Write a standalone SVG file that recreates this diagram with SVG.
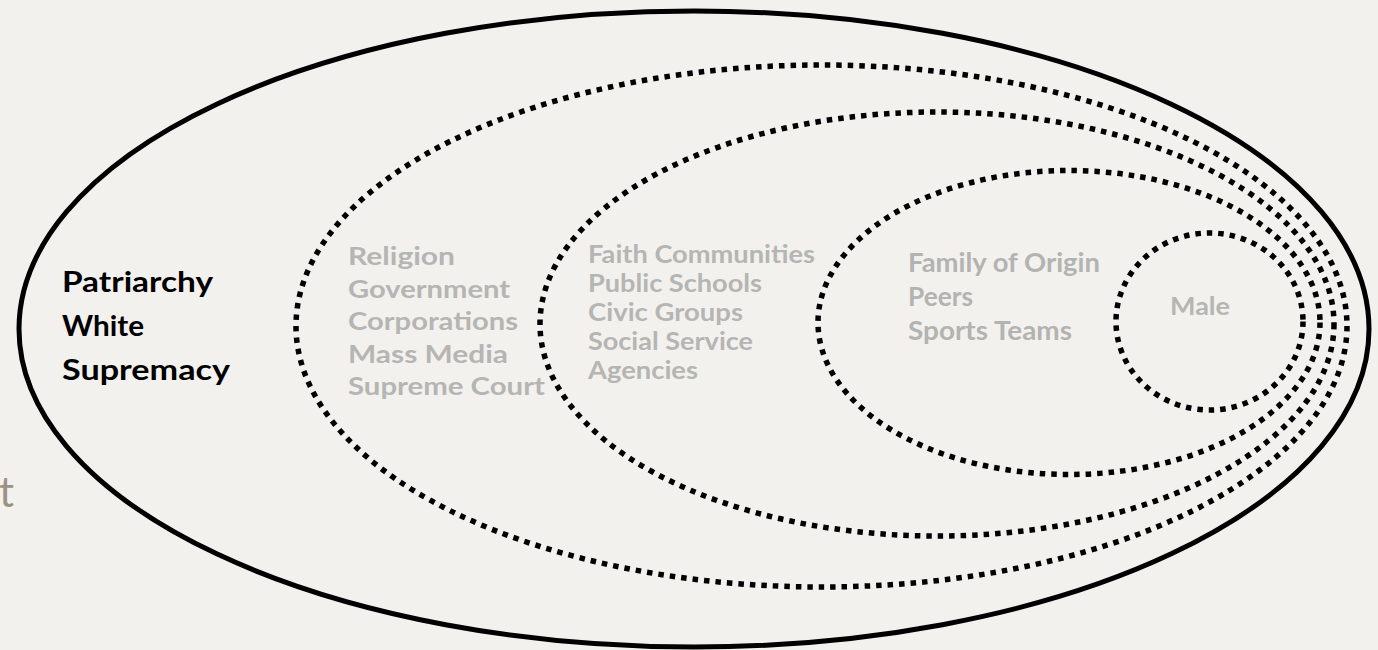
<svg xmlns="http://www.w3.org/2000/svg" width="1378" height="650" viewBox="0 0 1378 650">
<style>
.solid{fill:none;stroke:#000;stroke-width:5}
.dot{fill:none;stroke:#000;stroke-width:5.5;stroke-dasharray:5.5 6}
.blk{font-family:Lato,"Liberation Sans",sans-serif;font-weight:700;font-size:29px;fill:#000}
.gry{font-family:Lato,"Liberation Sans",sans-serif;font-weight:700;font-size:25px;fill:#b5b5b3}
.cal{font-family:Lato,"Liberation Sans",sans-serif;font-weight:700;font-size:26px;fill:#b3b3b1}
.side{font-family:Lato,"Open Sans",sans-serif;font-weight:400;font-size:42px;fill:#9c9282}
</style>
<rect width="1378" height="650" fill="#f2f1ee"/>
<text class="side" x="-1" y="507">t</text>
<g id="patriarchy">
<ellipse class="solid" cx="694" cy="329" rx="675" ry="318"/>
<text class="blk" x="62" y="292" textLength="151" lengthAdjust="spacingAndGlyphs">Patriarchy</text>
<text class="blk" x="62" y="336" textLength="82" lengthAdjust="spacingAndGlyphs">White</text>
<text class="blk" x="62" y="380" textLength="168" lengthAdjust="spacingAndGlyphs">Supremacy</text>
</g>
<g id="institutions">
<ellipse class="dot" cx="821.5" cy="326" rx="525.5" ry="261"/>
<text class="gry" x="348" y="265" textLength="107" lengthAdjust="spacingAndGlyphs">Religion</text>
<text class="gry" x="348" y="298" textLength="162" lengthAdjust="spacingAndGlyphs">Government</text>
<text class="gry" x="348" y="330" textLength="170" lengthAdjust="spacingAndGlyphs">Corporations</text>
<text class="gry" x="348" y="363" textLength="160" lengthAdjust="spacingAndGlyphs">Mass Media</text>
<text class="gry" x="348" y="395" textLength="197" lengthAdjust="spacingAndGlyphs">Supreme Court</text>
</g>
<g id="community">
<ellipse class="dot" cx="937" cy="324" rx="397" ry="212"/>
<text class="gry" x="588" y="263" textLength="227" lengthAdjust="spacingAndGlyphs">Faith Communities</text>
<text class="gry" x="588" y="292" textLength="174" lengthAdjust="spacingAndGlyphs">Public Schools</text>
<text class="gry" x="588" y="321" textLength="155" lengthAdjust="spacingAndGlyphs">Civic Groups</text>
<text class="gry" x="588" y="350" textLength="165" lengthAdjust="spacingAndGlyphs">Social Service</text>
<text class="gry" x="588" y="379" textLength="110" lengthAdjust="spacingAndGlyphs">Agencies</text>
</g>
<g id="personal">
<ellipse class="dot" cx="1069" cy="322.5" rx="251" ry="152"/>
<text class="cal" x="908" y="272" textLength="192" lengthAdjust="spacingAndGlyphs">Family of Origin</text>
<text class="cal" x="908" y="306" textLength="65" lengthAdjust="spacingAndGlyphs">Peers</text>
<text class="cal" x="908" y="340" textLength="164" lengthAdjust="spacingAndGlyphs">Sports Teams</text>
</g>
<g id="male">
<ellipse class="dot" cx="1209.5" cy="321.5" rx="93.5" ry="88.5"/>
<text class="gry" x="1170" y="315" textLength="60" lengthAdjust="spacingAndGlyphs">Male</text>
</g>
<g id="connectors"/>
</svg>
